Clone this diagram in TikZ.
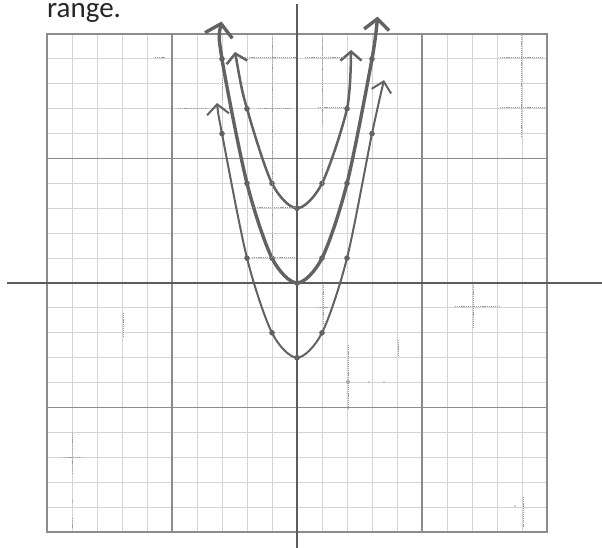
\documentclass[tikz,border=0pt]{standalone}
\usepackage{fontspec}
\setmainfont{Carlito}
\usetikzlibrary{arrows.meta}
\definecolor{minorc}{HTML}{D4D4D4}
\definecolor{majorc}{HTML}{8C8C8C}
\definecolor{axisc}{HTML}{5C5C5C}
\definecolor{curvec}{HTML}{626262}
\begin{document}
\begin{tikzpicture}[x=1pt,y=-1pt,
  minorline/.style={draw=minorc,line width=0.9pt},
  majorline/.style={draw=majorc,line width=1.4pt},
  axisline/.style={draw=axisc,line width=1.8pt},
  scanmark/.style={draw=gray!75,line width=0.6pt,dash pattern=on 1.2pt off 0.9pt},
  graph/.style={draw=curvec,line cap=round,line join=round},
  ptdot/.style={fill=curvec,draw=none}]
\useasboundingbox (0,0) rectangle (602,548);
\node[anchor=base west,inner sep=0pt,text=black!85,font=\fontsize{29}{34}\selectfont] (title) at (47,17.5) {range.};

\begin{scope}[shift={(297,283)},x=25pt,y=24.9pt]
  % grid
  \foreach \i in {-9,-8,-7,-6,-4,-3,-2,-1,1,2,3,4,6,7,8,9} {
    \draw[minorline] (\i,-10) -- (\i,10);
    \draw[minorline] (-10,\i) -- (10,\i);
  }
  \foreach \i in {-5,5} {
    \draw[majorline] (\i,-10) -- (\i,10);
    \draw[majorline] (-10,\i) -- (10,\i);
  }
  \draw[majorline] (-10,-10) rectangle (10,10);
  % axes
  \coordinate (xl) at (-11.6,0);
  \coordinate (xr) at (12.2,0);
  \coordinate (yt) at (0,11.2);
  \coordinate (yb) at (0,-10.7);
  \draw[axisline] (xl) -- (xr);
  \draw[axisline] (yt) -- (yb);

  % y = x^2 (thick)
  \draw[graph,line width=3.4pt,{Straight Barb[length=12pt,width=28pt]}-{Straight Barb[length=11pt,width=25pt]}]
    plot[smooth,tension=0.5] coordinates {(-3.02,10.5) (-3,9) (-2,4) (-1,1) (0,0) (1,1) (2,4) (3,9) (3.22,10.7)};
  % y = x^2 + 3
  \draw[graph,line width=2.5pt,{Straight Barb[length=9pt,width=21pt]}-{Straight Barb[length=9pt,width=21pt]}]
    plot[smooth,tension=0.5] coordinates {(-2.48,9.28) (-2,7) (-1,4) (0,3) (1,4) (2,7) (2.16,9.36)};
  % y = x^2 - 3
  \draw[graph,line width=2pt,{Straight Barb[length=10pt,width=22pt]}-{Straight Barb[length=10pt,width=20pt]}]
    plot[smooth,tension=0.5] coordinates {(-3.2,7.23) (-3,6) (-2,1) (-1,-2) (0,-3) (1,-2) (2,1) (3,6) (3.48,8.15)};

  % plotted points
  \foreach \p in {(-3,9),(-2,4),(-1,1),(0,0),(1,1),(2,4),(3,9),
                  (-2,7),(-1,4),(0,3),(1,4),(2,7),
                  (-3,6),(-2,1),(-1,-2),(0,-3),(1,-2),(2,1),(3,6)}
    \fill[ptdot] \p circle[radius=2.8pt];
\end{scope}

% faint scan marks
\draw[scanmark] (155,57) -- (165,57);
\draw[scanmark] (178,108) -- (207,108);
\draw[scanmark] (222,78) -- (222,100);
\draw[scanmark] (272,37) -- (272,257);
\draw[scanmark] (245,57) -- (296,57);
\draw[scanmark] (258,108) -- (290,108);
\draw[scanmark] (322,38) -- (322,125);
\draw[scanmark] (305,57) -- (343,57);
\draw[scanmark] (318,107) -- (345,107);
\draw[scanmark] (322,160) -- (322,185);
\draw[scanmark] (521,33) -- (521,138);
\draw[scanmark] (500,57) -- (543,57);
\draw[scanmark] (500,107) -- (545,107);
\draw[scanmark] (253,207) -- (296,207);
\draw[scanmark] (252,257) -- (296,257);
\draw[scanmark] (323,285) -- (323,323);
\draw[scanmark] (318,307) -- (328,307);
\draw[scanmark] (123,313) -- (123,338);
\draw[scanmark] (72,433) -- (72,473);
\draw[scanmark] (62,457) -- (82,457);
\draw[scanmark] (72,500) -- (72,504);
\draw[scanmark] (72,518) -- (72,528);
\draw[scanmark] (455,306) -- (500,306);
\draw[scanmark] (473,285) -- (473,328);
\draw[scanmark] (348,345) -- (348,410);
\draw[scanmark] (398,340) -- (398,355);
\draw[scanmark] (523,497) -- (523,527);
\fill[gray!70] (348,382) circle[radius=2pt];
\fill[gray!70] (369,382) circle[radius=0.8pt];
\fill[gray!70] (384,382) circle[radius=0.8pt];
\fill[gray!70] (515,506) circle[radius=0.8pt];
\end{tikzpicture}
\end{document}
